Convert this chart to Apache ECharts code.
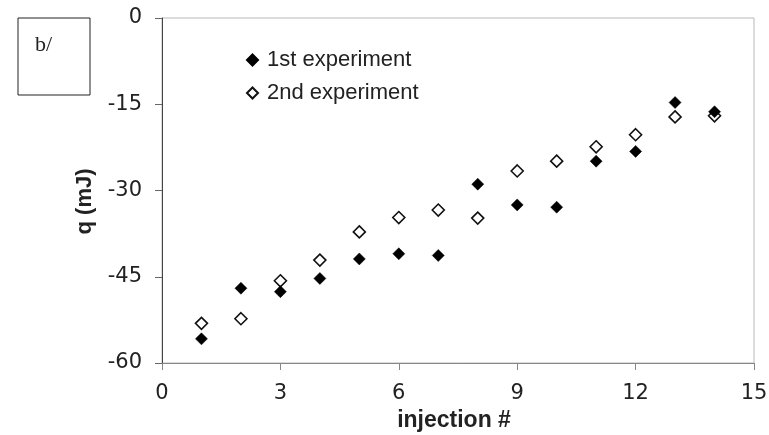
<!DOCTYPE html>
<html>
<head>
<meta charset="utf-8">
<script src="https://cdn.jsdelivr.net/npm/echarts@6/dist/echarts.min.js"></script>
<style>html,body{margin:0;padding:0;background:#fff}#c{width:769px;height:435px}</style>
</head>
<body>
<div id="c"></div>
<script>
const injections = [1,2,3,4,5,6,7,8,9,10,11,12,13,14];
const exp1 = [-55.8,-47.0,-47.6,-45.3,-41.9,-41.0,-41.3,-28.9,-32.5,-32.9,-24.9,-23.2,-14.7,-16.3];
const exp2 = [-53.1,-52.3,-45.7,-42.1,-37.2,-34.7,-33.4,-34.8,-26.6,-24.9,-22.4,-20.3,-17.2,-17.0];
const xTicks = [0,3,6,9,12,15];
const yTicks = [-60,-45,-30,-15,0];
const seriesNames = ['1st experiment','2nd experiment'];

const pairs = (xs, ys) => xs.map((x,i)=>[x,ys[i]]);
const chart = echarts.init(document.getElementById('c'));
const tickFont = {fontFamily:'DejaVu Sans',fontSize:21,color:'#222'};
chart.setOption({
  animation:false,
  backgroundColor:'#fff',
  grid:{left:162,right:15,top:18,bottom:72,show:true,borderColor:'#b8b8b8',borderWidth:1,outerBoundsMode:'none',containLabel:false},
  legend:{
    data:[seriesNames[0],seriesNames[1]],
    orient:'vertical',left:241,top:44,itemGap:11,itemWidth:11,itemHeight:11,
    textStyle:{fontFamily:'Liberation Sans, Arial',fontSize:22,color:'#222',padding:[0,0,0,4]}
  },
  xAxis:{
    type:'value',min:xTicks[0],max:xTicks[xTicks.length-1],interval:3,
    name:'injection #',nameLocation:'middle',nameGap:46,
    nameTextStyle:{fontFamily:'Liberation Sans, Arial',fontSize:23,fontWeight:'bold',color:'#222',padding:[0,8,0,0]},
    axisLine:{show:true,onZero:false,lineStyle:{color:'#888',width:1}},
    axisTick:{show:true,length:7,inside:false,lineStyle:{color:'#888'}},
    axisLabel:Object.assign({margin:20},tickFont),
    splitLine:{show:false}
  },
  yAxis:{
    type:'value',min:yTicks[0],max:yTicks[yTicks.length-1],interval:15,
    name:'q (mJ)',nameLocation:'middle',nameGap:66,nameRotate:90,
    nameTextStyle:{fontFamily:'Liberation Sans, Arial',fontSize:22,fontWeight:'bold',color:'#222',padding:[0,0,0,-22]},
    axisLine:{show:true,onZero:false,lineStyle:{color:'#444',width:1}},
    axisTick:{show:true,length:7,lineStyle:{color:'#666'}},
    axisLabel:Object.assign({margin:20},tickFont),
    splitLine:{show:false}
  },
  graphic:[
    {type:'rect',shape:{x:18,y:18,width:72,height:77},style:{fill:'#fff',stroke:'#222',lineWidth:1}},
    {type:'text',x:35,y:34,style:{text:'b/',font:'22px "Liberation Serif", "Times New Roman", serif',fill:'#222'}}
  ],
  series:[
    {name:seriesNames[1],type:'scatter',symbol:'diamond',symbolSize:12,data:pairs(injections,exp2),
     itemStyle:{color:'#fff',borderColor:'#111',borderWidth:1.6,opacity:1},z:2},
    {name:seriesNames[0],type:'scatter',symbol:'diamond',symbolSize:12,data:pairs(injections,exp1),
     itemStyle:{color:'#000',borderColor:'#000',borderWidth:0.5,opacity:1},z:3}
  ]
});
</script>
</body>
</html>
